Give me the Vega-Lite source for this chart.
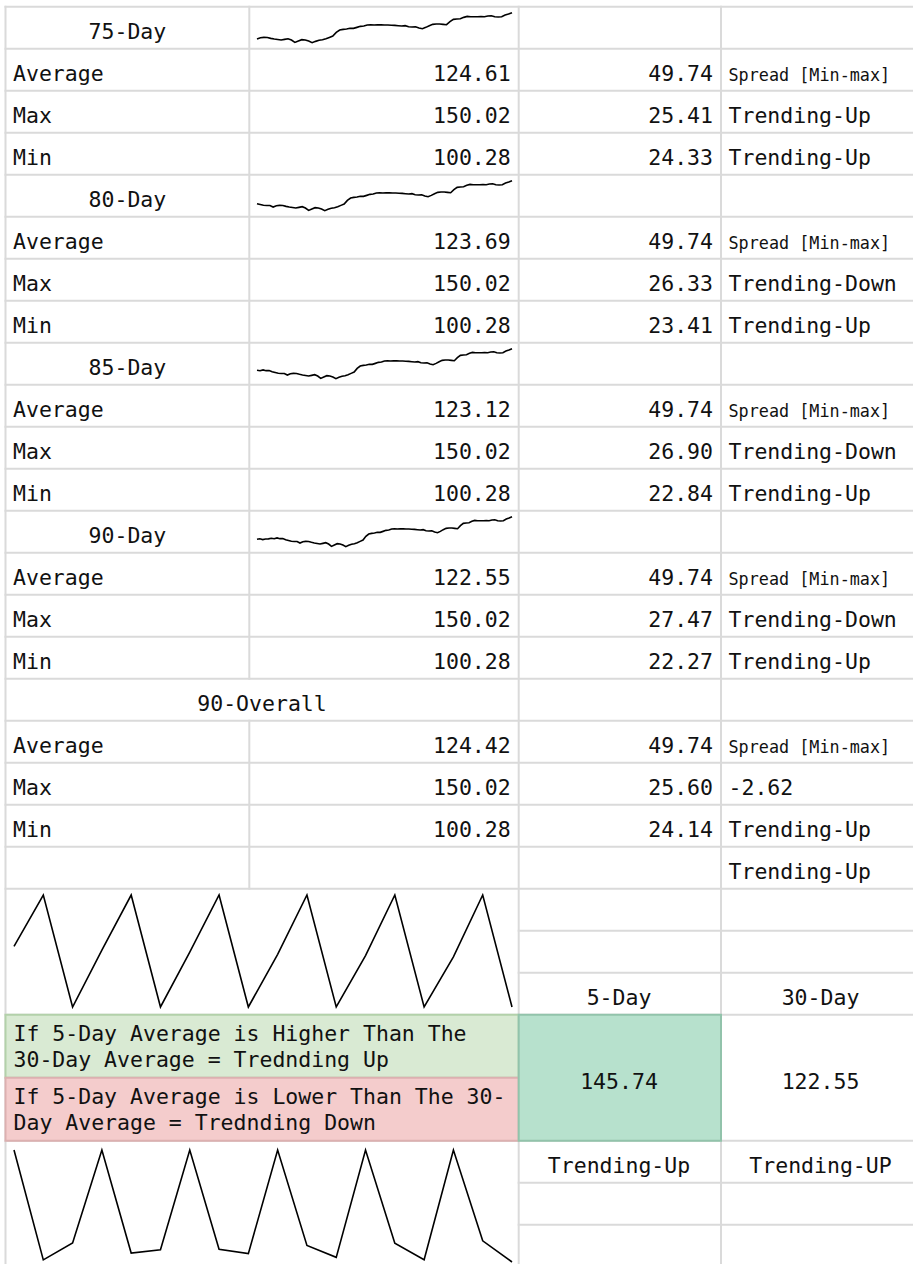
{
  "$schema": "https://vega.github.io/schema/vega-lite/v6.json",
  "width": 913,
  "height": 1264,
  "padding": 0,
  "autosize": "none",
  "background": "#ffffff",
  "config": {
    "view": {"stroke": null},
    "text": {"font": "DejaVu Sans Mono", "fontSize": 21.5, "color": "#111111"}
  },
  "datasets": {
    "hlines": [
      {"r": 0, "c0": 0, "c1": 4}, {"r": 1, "c0": 0, "c1": 4}, {"r": 2, "c0": 0, "c1": 4}, {"r": 3, "c0": 0, "c1": 4},
      {"r": 4, "c0": 0, "c1": 4}, {"r": 5, "c0": 0, "c1": 4}, {"r": 6, "c0": 0, "c1": 4}, {"r": 7, "c0": 0, "c1": 4},
      {"r": 8, "c0": 0, "c1": 4}, {"r": 9, "c0": 0, "c1": 4}, {"r": 10, "c0": 0, "c1": 4}, {"r": 11, "c0": 0, "c1": 4},
      {"r": 12, "c0": 0, "c1": 4}, {"r": 13, "c0": 0, "c1": 4}, {"r": 14, "c0": 0, "c1": 4}, {"r": 15, "c0": 0, "c1": 4},
      {"r": 16, "c0": 0, "c1": 4}, {"r": 17, "c0": 0, "c1": 4}, {"r": 18, "c0": 0, "c1": 4}, {"r": 19, "c0": 0, "c1": 4},
      {"r": 20, "c0": 0, "c1": 4}, {"r": 21, "c0": 0, "c1": 4}, {"r": 22, "c0": 2, "c1": 4}, {"r": 23, "c0": 2, "c1": 4},
      {"r": 24, "c0": 0, "c1": 4}, {"r": 27, "c0": 0, "c1": 4}, {"r": 28, "c0": 2, "c1": 4}, {"r": 29, "c0": 2, "c1": 4},
      {"r": 30, "c0": 0, "c1": 4}
    ],
    "vlines": [
      {"c": 0, "r0": 0, "r1": 30}, {"c": 1, "r0": 0, "r1": 16}, {"c": 1, "r0": 17, "r1": 21},
      {"c": 2, "r0": 0, "r1": 30}, {"c": 3, "r0": 0, "r1": 30}, {"c": 4, "r0": 0, "r1": 30}
    ],
    "fills": [
      {"r0": 24, "r1": 25.5, "c0": 0, "c1": 2, "k": "up"},
      {"r0": 25.5, "r1": 27, "c0": 0, "c1": 2, "k": "down"},
      {"r0": 24, "r1": 27, "c0": 2, "c1": 3, "k": "high"}
    ],
    "prices": [
      {"day": 1, "price": 112.5}, {"day": 2, "price": 113.4}, {"day": 3, "price": 112.1}, {"day": 4, "price": 113.0}, {"day": 5, "price": 113.3},
      {"day": 6, "price": 114.2}, {"day": 7, "price": 113.5}, {"day": 8, "price": 114.8}, {"day": 9, "price": 113.6}, {"day": 10, "price": 113.9},
      {"day": 11, "price": 111.8}, {"day": 12, "price": 110.5}, {"day": 13, "price": 109.2}, {"day": 14, "price": 108.9}, {"day": 15, "price": 109.0},
      {"day": 16, "price": 106.4}, {"day": 17, "price": 108.6}, {"day": 18, "price": 109.1}, {"day": 19, "price": 108.8}, {"day": 20, "price": 107.5},
      {"day": 21, "price": 106.4}, {"day": 22, "price": 105.5}, {"day": 23, "price": 104.7}, {"day": 24, "price": 105.8}, {"day": 25, "price": 106.9},
      {"day": 26, "price": 104.7}, {"day": 27, "price": 100.8}, {"day": 28, "price": 103.0}, {"day": 29, "price": 105.3}, {"day": 30, "price": 104.7},
      {"day": 31, "price": 103.0}, {"day": 32, "price": 100.28}, {"day": 33, "price": 102.5}, {"day": 34, "price": 104.2}, {"day": 35, "price": 105.3},
      {"day": 36, "price": 106.9}, {"day": 37, "price": 109.1}, {"day": 38, "price": 111.3}, {"day": 39, "price": 117.4}, {"day": 40, "price": 121.3},
      {"day": 41, "price": 122.4}, {"day": 42, "price": 122.9}, {"day": 43, "price": 124.1}, {"day": 44, "price": 124.1}, {"day": 45, "price": 125.7},
      {"day": 46, "price": 127.4}, {"day": 47, "price": 127.9}, {"day": 48, "price": 129.6}, {"day": 49, "price": 130.1}, {"day": 50, "price": 129.6},
      {"day": 51, "price": 130.1}, {"day": 52, "price": 129.8}, {"day": 53, "price": 129.6}, {"day": 54, "price": 129.6}, {"day": 55, "price": 129.3},
      {"day": 56, "price": 129.0}, {"day": 57, "price": 128.5}, {"day": 58, "price": 127.9}, {"day": 59, "price": 128.5}, {"day": 60, "price": 126.8},
      {"day": 61, "price": 126.3}, {"day": 62, "price": 126.8}, {"day": 63, "price": 124.6}, {"day": 64, "price": 123.5}, {"day": 65, "price": 125.7},
      {"day": 66, "price": 128.5}, {"day": 67, "price": 130.7}, {"day": 68, "price": 131.2}, {"day": 69, "price": 131.2}, {"day": 70, "price": 130.7},
      {"day": 71, "price": 130.1}, {"day": 72, "price": 135.1}, {"day": 73, "price": 139.0}, {"day": 74, "price": 139.5}, {"day": 75, "price": 140.1},
      {"day": 76, "price": 142.3}, {"day": 77, "price": 143.9}, {"day": 78, "price": 143.4}, {"day": 79, "price": 143.4}, {"day": 80, "price": 143.4},
      {"day": 81, "price": 143.7}, {"day": 82, "price": 143.4}, {"day": 83, "price": 144.5}, {"day": 84, "price": 145.0}, {"day": 85, "price": 143.4},
      {"day": 86, "price": 142.8}, {"day": 87, "price": 143.4}, {"day": 88, "price": 146.2}, {"day": 89, "price": 147.8}, {"day": 90, "price": 150.02}
    ],
    "sawA": [
      {"i": 1, "v": 127.22}, {"i": 2, "v": 150.02}, {"i": 3, "v": 100.28},
      {"i": 4, "v": 125.55}, {"i": 5, "v": 150.02}, {"i": 6, "v": 100.28},
      {"i": 7, "v": 124.61}, {"i": 8, "v": 150.02}, {"i": 9, "v": 100.28},
      {"i": 10, "v": 123.69}, {"i": 11, "v": 150.02}, {"i": 12, "v": 100.28},
      {"i": 13, "v": 123.12}, {"i": 14, "v": 150.02}, {"i": 15, "v": 100.28},
      {"i": 16, "v": 122.55}, {"i": 17, "v": 150.02}, {"i": 18, "v": 100.28}
    ],
    "sawB": [
      {"i": 1, "v": 49.74}, {"i": 2, "v": 22.80}, {"i": 3, "v": 26.94},
      {"i": 4, "v": 49.74}, {"i": 5, "v": 24.47}, {"i": 6, "v": 25.27},
      {"i": 7, "v": 49.74}, {"i": 8, "v": 25.41}, {"i": 9, "v": 24.33},
      {"i": 10, "v": 49.74}, {"i": 11, "v": 26.33}, {"i": 12, "v": 23.41},
      {"i": 13, "v": 49.74}, {"i": 14, "v": 26.90}, {"i": 15, "v": 22.84},
      {"i": 16, "v": 49.74}, {"i": 17, "v": 27.47}, {"i": 18, "v": 22.27}
    ],
    "leftText": [
      {"row": 1, "col": 0, "text": "Average"}, {"row": 2, "col": 0, "text": "Max"}, {"row": 3, "col": 0, "text": "Min"},
      {"row": 5, "col": 0, "text": "Average"}, {"row": 6, "col": 0, "text": "Max"}, {"row": 7, "col": 0, "text": "Min"},
      {"row": 9, "col": 0, "text": "Average"}, {"row": 10, "col": 0, "text": "Max"}, {"row": 11, "col": 0, "text": "Min"},
      {"row": 13, "col": 0, "text": "Average"}, {"row": 14, "col": 0, "text": "Max"}, {"row": 15, "col": 0, "text": "Min"},
      {"row": 17, "col": 0, "text": "Average"}, {"row": 18, "col": 0, "text": "Max"}, {"row": 19, "col": 0, "text": "Min"},
      {"row": 1, "col": 3, "text": "Spread [Min-max]"}, {"row": 2, "col": 3, "text": "Trending-Up"}, {"row": 3, "col": 3, "text": "Trending-Up"},
      {"row": 5, "col": 3, "text": "Spread [Min-max]"}, {"row": 6, "col": 3, "text": "Trending-Down"}, {"row": 7, "col": 3, "text": "Trending-Up"},
      {"row": 9, "col": 3, "text": "Spread [Min-max]"}, {"row": 10, "col": 3, "text": "Trending-Down"}, {"row": 11, "col": 3, "text": "Trending-Up"},
      {"row": 13, "col": 3, "text": "Spread [Min-max]"}, {"row": 14, "col": 3, "text": "Trending-Down"}, {"row": 15, "col": 3, "text": "Trending-Up"},
      {"row": 17, "col": 3, "text": "Spread [Min-max]"}, {"row": 18, "col": 3, "text": "-2.62"}, {"row": 19, "col": 3, "text": "Trending-Up"},
      {"row": 20, "col": 3, "text": "Trending-Up"}
    ],
    "rightText": [
      {"row": 1, "col": 1, "value": 124.61}, {"row": 2, "col": 1, "value": 150.02}, {"row": 3, "col": 1, "value": 100.28},
      {"row": 1, "col": 2, "value": 49.74}, {"row": 2, "col": 2, "value": 25.41}, {"row": 3, "col": 2, "value": 24.33},
      {"row": 5, "col": 1, "value": 123.69}, {"row": 6, "col": 1, "value": 150.02}, {"row": 7, "col": 1, "value": 100.28},
      {"row": 5, "col": 2, "value": 49.74}, {"row": 6, "col": 2, "value": 26.33}, {"row": 7, "col": 2, "value": 23.41},
      {"row": 9, "col": 1, "value": 123.12}, {"row": 10, "col": 1, "value": 150.02}, {"row": 11, "col": 1, "value": 100.28},
      {"row": 9, "col": 2, "value": 49.74}, {"row": 10, "col": 2, "value": 26.90}, {"row": 11, "col": 2, "value": 22.84},
      {"row": 13, "col": 1, "value": 122.55}, {"row": 14, "col": 1, "value": 150.02}, {"row": 15, "col": 1, "value": 100.28},
      {"row": 13, "col": 2, "value": 49.74}, {"row": 14, "col": 2, "value": 27.47}, {"row": 15, "col": 2, "value": 22.27},
      {"row": 17, "col": 1, "value": 124.42}, {"row": 18, "col": 1, "value": 150.02}, {"row": 19, "col": 1, "value": 100.28},
      {"row": 17, "col": 2, "value": 49.74}, {"row": 18, "col": 2, "value": 25.60}, {"row": 19, "col": 2, "value": 24.14}
    ],
    "centerText": [
      {"row": 0, "col": 0, "text": "75-Day"}, {"row": 4, "col": 0, "text": "80-Day"},
      {"row": 8, "col": 0, "text": "85-Day"}, {"row": 12, "col": 0, "text": "90-Day"},
      {"row": 16, "col": 0.5, "text": "90-Overall"},
      {"row": 23, "col": 2, "text": "5-Day"}, {"row": 23, "col": 3, "text": "30-Day"},
      {"row": 25, "col": 2, "text": "145.74"}, {"row": 25, "col": 3, "text": "122.55"},
      {"row": 27, "col": 2, "text": "Trending-Up"}, {"row": 27, "col": 3, "text": "Trending-UP"}
    ],
    "notes": [
      {"row": 24, "col": 0, "text": "If 5-Day Average is Higher Than The\n30-Day Average = Trednding Up"},
      {"row": 25.5, "col": 0, "text": "If 5-Day Average is Lower Than The 30-\nDay Average = Trednding Down"}
    ]
  },
  "resolve": {"scale": {"x": "independent", "y": "independent", "fill": "independent", "stroke": "independent"}},
  "layer": [
    {
      "data": {"name": "hlines"},
      "mark": {"type": "rule", "stroke": "#dadada", "strokeWidth": 2, "strokeCap": "square"},
      "encoding": {
        "x": {"field": "c0", "type": "quantitative", "scale": {"domain": [0, 1, 2, 3, 4], "range": [5.5, 249.3, 518.7, 721, 920], "nice": false, "zero": false}, "axis": null},
        "x2": {"field": "c1"},
        "y": {"field": "r", "type": "quantitative", "scale": {"domain": [0, 30], "range": [6.7, 1266.7], "nice": false, "zero": false}, "axis": null}
      }
    },
    {
      "data": {"name": "vlines"},
      "mark": {"type": "rule", "stroke": "#dadada", "strokeWidth": 2, "strokeCap": "square"},
      "encoding": {
        "x": {"field": "c", "type": "quantitative", "scale": {"domain": [0, 1, 2, 3, 4], "range": [5.5, 249.3, 518.7, 721, 920], "nice": false, "zero": false}, "axis": null},
        "y": {"field": "r0", "type": "quantitative", "scale": {"domain": [0, 30], "range": [6.7, 1266.7], "nice": false, "zero": false}, "axis": null},
        "y2": {"field": "r1"}
      }
    },
    {
      "data": {"name": "fills"},
      "mark": {"type": "rect", "strokeWidth": 2},
      "encoding": {
        "x": {"field": "c0", "type": "quantitative", "scale": {"domain": [0, 1, 2, 3, 4], "range": [5.5, 249.3, 518.7, 721, 920], "nice": false, "zero": false}, "axis": null},
        "x2": {"field": "c1"},
        "y": {"field": "r0", "type": "quantitative", "scale": {"domain": [0, 30], "range": [6.7, 1266.7], "nice": false, "zero": false}, "axis": null},
        "y2": {"field": "r1"},
        "fill": {"field": "k", "type": "nominal", "scale": {"domain": ["up", "down", "high"], "range": ["#d9ead3", "#f4cccc", "#b7e1cd"]}, "legend": null},
        "stroke": {"field": "k", "type": "nominal", "scale": {"domain": ["up", "down", "high"], "range": ["#b3d1aa", "#dcb0b0", "#92c3ab"]}, "legend": null}
      }
    },
    {
      "data": {"name": "prices"},
      "transform": [{"filter": {"field": "day", "gte": 16}}],
      "mark": {"type": "line", "color": "#000000", "strokeWidth": 1.6},
      "encoding": {
        "x": {"field": "day", "type": "quantitative", "scale": {"zero": false, "nice": false, "range": [257, 512]}, "axis": null},
        "y": {"field": "price", "type": "quantitative", "scale": {"zero": false, "nice": false, "range": [42.7, 12.7]}, "axis": null}
      }
    },
    {
      "data": {"name": "prices"},
      "transform": [{"filter": {"field": "day", "gte": 11}}],
      "mark": {"type": "line", "color": "#000000", "strokeWidth": 1.6},
      "encoding": {
        "x": {"field": "day", "type": "quantitative", "scale": {"zero": false, "nice": false, "range": [257, 512]}, "axis": null},
        "y": {"field": "price", "type": "quantitative", "scale": {"zero": false, "nice": false, "range": [210.7, 180.7]}, "axis": null}
      }
    },
    {
      "data": {"name": "prices"},
      "transform": [{"filter": {"field": "day", "gte": 6}}],
      "mark": {"type": "line", "color": "#000000", "strokeWidth": 1.6},
      "encoding": {
        "x": {"field": "day", "type": "quantitative", "scale": {"zero": false, "nice": false, "range": [257, 512]}, "axis": null},
        "y": {"field": "price", "type": "quantitative", "scale": {"zero": false, "nice": false, "range": [378.7, 348.7]}, "axis": null}
      }
    },
    {
      "data": {"name": "prices"},
      "mark": {"type": "line", "color": "#000000", "strokeWidth": 1.6},
      "encoding": {
        "x": {"field": "day", "type": "quantitative", "scale": {"zero": false, "nice": false, "range": [257, 512]}, "axis": null},
        "y": {"field": "price", "type": "quantitative", "scale": {"zero": false, "nice": false, "range": [546.7, 516.7]}, "axis": null}
      }
    },
    {
      "data": {"name": "sawA"},
      "mark": {"type": "line", "color": "#000000", "strokeWidth": 1.6},
      "encoding": {
        "x": {"field": "i", "type": "quantitative", "scale": {"zero": false, "nice": false, "range": [14, 512]}, "axis": null},
        "y": {"field": "v", "type": "quantitative", "scale": {"zero": false, "nice": false, "range": [1007, 895]}, "axis": null}
      }
    },
    {
      "data": {"name": "sawB"},
      "mark": {"type": "line", "color": "#000000", "strokeWidth": 1.6},
      "encoding": {
        "x": {"field": "i", "type": "quantitative", "scale": {"zero": false, "nice": false, "range": [14, 512]}, "axis": null},
        "y": {"field": "v", "type": "quantitative", "scale": {"zero": false, "nice": false, "range": [1262, 1150]}, "axis": null}
      }
    },
    {
      "data": {"name": "leftText"},
      "transform": [{"filter": "datum.text !== 'Spread [Min-max]'"}],
      "mark": {"type": "text", "align": "left", "baseline": "alphabetic", "dx": 7.5, "dy": 32.4},
      "encoding": {
        "x": {"field": "col", "type": "quantitative", "scale": {"domain": [0, 1, 2, 3, 4], "range": [5.5, 249.3, 518.7, 721, 920], "nice": false, "zero": false}, "axis": null},
        "y": {"field": "row", "type": "quantitative", "scale": {"domain": [0, 30], "range": [6.7, 1266.7], "nice": false, "zero": false}, "axis": null},
        "text": {"field": "text", "type": "nominal"}
      }
    },
    {
      "data": {"name": "leftText"},
      "transform": [{"filter": "datum.text === 'Spread [Min-max]'"}],
      "mark": {"type": "text", "align": "left", "baseline": "alphabetic", "dx": 7.5, "dy": 32.4, "fontSize": 16.8},
      "encoding": {
        "x": {"field": "col", "type": "quantitative", "scale": {"domain": [0, 1, 2, 3, 4], "range": [5.5, 249.3, 518.7, 721, 920], "nice": false, "zero": false}, "axis": null},
        "y": {"field": "row", "type": "quantitative", "scale": {"domain": [0, 30], "range": [6.7, 1266.7], "nice": false, "zero": false}, "axis": null},
        "text": {"field": "text", "type": "nominal"}
      }
    },
    {
      "data": {"name": "rightText"},
      "mark": {"type": "text", "align": "right", "baseline": "alphabetic", "dx": -8, "dy": 32.4},
      "encoding": {
        "x": {"field": "col", "type": "quantitative", "scale": {"domain": [0, 1, 2, 3], "range": [249.3, 518.7, 721, 920], "nice": false, "zero": false}, "axis": null},
        "y": {"field": "row", "type": "quantitative", "scale": {"domain": [0, 30], "range": [6.7, 1266.7], "nice": false, "zero": false}, "axis": null},
        "text": {"field": "value", "type": "quantitative", "format": ".2f"}
      }
    },
    {
      "data": {"name": "centerText"},
      "mark": {"type": "text", "align": "center", "baseline": "alphabetic", "dy": 32},
      "encoding": {
        "x": {"field": "col", "type": "quantitative", "scale": {"domain": [0, 0.5, 1, 2, 3], "range": [127.4, 262, 384, 619, 820.5], "nice": false, "zero": false}, "axis": null},
        "y": {"field": "row", "type": "quantitative", "scale": {"domain": [0, 30], "range": [6.7, 1266.7], "nice": false, "zero": false}, "axis": null},
        "text": {"field": "text", "type": "nominal"}
      }
    },
    {
      "data": {"name": "notes"},
      "mark": {"type": "text", "align": "left", "baseline": "alphabetic", "dx": 8, "dy": 26, "lineBreak": "\n", "lineHeight": 26.5},
      "encoding": {
        "x": {"field": "col", "type": "quantitative", "scale": {"domain": [0, 1, 2, 3, 4], "range": [5.5, 249.3, 518.7, 721, 920], "nice": false, "zero": false}, "axis": null},
        "y": {"field": "row", "type": "quantitative", "scale": {"domain": [0, 30], "range": [6.7, 1266.7], "nice": false, "zero": false}, "axis": null},
        "text": {"field": "text", "type": "nominal"}
      }
    }
  ]
}
